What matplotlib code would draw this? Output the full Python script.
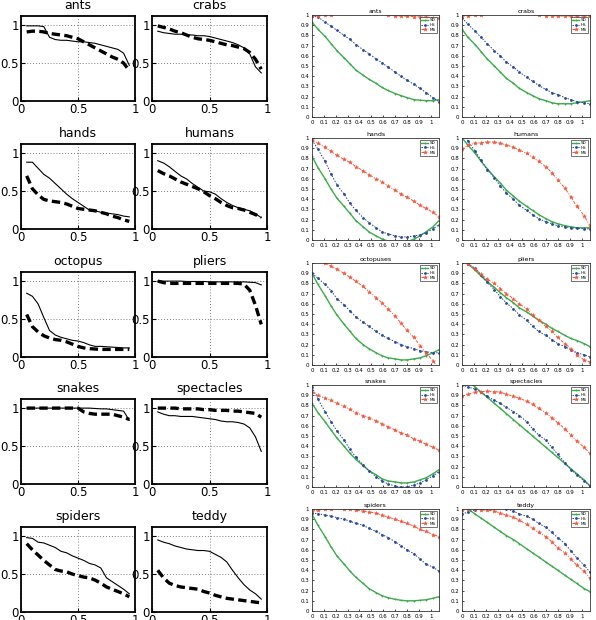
import matplotlib
matplotlib.use("Agg")
import matplotlib.pyplot as plt

# ---------------- left panel data ----------------
names_left = ["ants", "crabs", "hands", "humans", "octopus", "pliers",
              "snakes", "spectacles", "spiders", "teddy"]
recall_left = [0.05, 0.10, 0.15, 0.20, 0.25, 0.30, 0.35, 0.40, 0.45, 0.50,
               0.55, 0.60, 0.65, 0.70, 0.75, 0.80, 0.85, 0.90, 0.95]

solid_ants = [0.99, 0.99, 0.99, 0.98, 0.84, 0.81, 0.80, 0.80, 0.79, 0.78, 0.78, 0.77, 0.76, 0.74, 0.72, 0.70, 0.68, 0.63, 0.47]
dash_ants = [0.91, 0.92, 0.92, 0.91, 0.89, 0.88, 0.87, 0.86, 0.84, 0.82, 0.78, 0.74, 0.70, 0.66, 0.62, 0.58, 0.55, 0.50, 0.40]
solid_crabs = [0.92, 0.90, 0.89, 0.88, 0.88, 0.87, 0.87, 0.86, 0.86, 0.85, 0.83, 0.81, 0.79, 0.77, 0.74, 0.70, 0.62, 0.45, 0.37]
dash_crabs = [0.99, 0.97, 0.95, 0.92, 0.90, 0.87, 0.84, 0.82, 0.81, 0.80, 0.78, 0.76, 0.74, 0.73, 0.71, 0.69, 0.64, 0.55, 0.42]
solid_hands = [0.88, 0.88, 0.80, 0.72, 0.67, 0.60, 0.53, 0.46, 0.40, 0.35, 0.30, 0.25, 0.24, 0.22, 0.21, 0.20, 0.19, 0.17, 0.16]
dash_hands = [0.70, 0.53, 0.45, 0.39, 0.37, 0.36, 0.35, 0.33, 0.30, 0.27, 0.26, 0.25, 0.24, 0.22, 0.20, 0.17, 0.15, 0.12, 0.10]
solid_humans = [0.90, 0.87, 0.82, 0.76, 0.70, 0.66, 0.60, 0.55, 0.50, 0.49, 0.46, 0.40, 0.35, 0.31, 0.28, 0.26, 0.24, 0.20, 0.15]
dash_humans = [0.77, 0.73, 0.70, 0.66, 0.62, 0.59, 0.56, 0.53, 0.49, 0.44, 0.40, 0.35, 0.31, 0.28, 0.27, 0.25, 0.22, 0.19, 0.15]
solid_octopus = [0.84, 0.80, 0.70, 0.52, 0.35, 0.29, 0.26, 0.24, 0.22, 0.21, 0.19, 0.16, 0.14, 0.14, 0.135, 0.13, 0.125, 0.12, 0.12]
dash_octopus = [0.56, 0.40, 0.33, 0.28, 0.25, 0.23, 0.22, 0.20, 0.17, 0.14, 0.12, 0.11, 0.105, 0.10, 0.10, 0.10, 0.10, 0.10, 0.10]
solid_pliers = [1.00, 1.00, 1.00, 1.00, 1.00, 0.995, 0.995, 0.995, 0.995, 0.99, 0.99, 0.99, 0.99, 0.99, 0.99, 0.99, 0.985, 0.98, 0.95]
dash_pliers = [1.00, 0.98, 0.97, 0.97, 0.97, 0.97, 0.97, 0.97, 0.97, 0.97, 0.97, 0.97, 0.97, 0.97, 0.97, 0.96, 0.88, 0.68, 0.43]
solid_snakes = [1.00, 1.00, 1.00, 1.00, 1.00, 1.00, 1.00, 1.00, 1.00, 1.00, 1.00, 1.00, 0.995, 0.99, 0.99, 0.98, 0.97, 0.96, 0.84]
dash_snakes = [1.00, 1.00, 1.00, 1.00, 1.00, 1.00, 1.00, 1.00, 1.00, 1.00, 0.95, 0.93, 0.92, 0.92, 0.92, 0.92, 0.90, 0.88, 0.85]
solid_spect = [0.95, 0.92, 0.90, 0.90, 0.89, 0.89, 0.89, 0.88, 0.87, 0.86, 0.85, 0.83, 0.82, 0.82, 0.81, 0.79, 0.74, 0.62, 0.43]
dash_spect = [1.00, 1.00, 1.00, 1.00, 0.99, 0.99, 0.99, 0.99, 0.98, 0.98, 0.97, 0.97, 0.97, 0.96, 0.96, 0.95, 0.94, 0.93, 0.88]
solid_spiders = [0.98, 0.97, 0.92, 0.91, 0.88, 0.85, 0.80, 0.78, 0.74, 0.71, 0.68, 0.64, 0.62, 0.58, 0.45, 0.40, 0.35, 0.30, 0.24]
dash_spiders = [0.90, 0.82, 0.75, 0.68, 0.62, 0.56, 0.54, 0.53, 0.50, 0.48, 0.46, 0.45, 0.42, 0.38, 0.33, 0.30, 0.27, 0.24, 0.20]
solid_teddy = [0.95, 0.92, 0.90, 0.87, 0.85, 0.83, 0.82, 0.81, 0.81, 0.80, 0.76, 0.72, 0.66, 0.55, 0.45, 0.36, 0.29, 0.24, 0.17]
dash_teddy = [0.55, 0.45, 0.38, 0.35, 0.33, 0.32, 0.31, 0.30, 0.27, 0.25, 0.22, 0.20, 0.18, 0.17, 0.16, 0.15, 0.14, 0.13, 0.12]

solid_left = [solid_ants, solid_crabs, solid_hands, solid_humans, solid_octopus,
              solid_pliers, solid_snakes, solid_spect, solid_spiders, solid_teddy]
dash_left = [dash_ants, dash_crabs, dash_hands, dash_humans, dash_octopus,
             dash_pliers, dash_snakes, dash_spect, dash_spiders, dash_teddy]

# ---------------- right panel data ----------------
names_right = ["ants", "crabs", "hands", "humans", "octopuses", "pliers",
               "snakes", "spectacles", "spiders", "teddy"]
x_right = [0.0, 0.05, 0.11, 0.16, 0.21, 0.27, 0.32, 0.37, 0.43, 0.48, 0.54,
           0.59, 0.64, 0.70, 0.75, 0.80, 0.86, 0.91, 0.96, 1.02, 1.07]
series_names = ["SD", "HS", "MS"]

sd_ants = [0.93, 0.86, 0.79, 0.72, 0.65, 0.58, 0.52, 0.46, 0.41, 0.37, 0.33, 0.29, 0.26, 0.23, 0.21, 0.19, 0.17, 0.165, 0.16, 0.16, 0.17]
hs_ants = [0.99, 0.98, 0.93, 0.89, 0.85, 0.80, 0.76, 0.71, 0.66, 0.62, 0.57, 0.53, 0.49, 0.44, 0.40, 0.36, 0.32, 0.28, 0.24, 0.19, 0.15]
ms_ants = [0.99, 0.995, 1.0, 1.0, 1.05, 1.06, 1.06, 1.06, 1.06, 1.06, 1.05, 1.04, 1.0, 0.995, 0.99, 0.99, 0.985, 0.98, 0.98, 0.975, 0.97]
sd_crabs = [0.86, 0.78, 0.71, 0.64, 0.57, 0.50, 0.44, 0.38, 0.33, 0.28, 0.24, 0.21, 0.18, 0.16, 0.14, 0.13, 0.13, 0.13, 0.14, 0.15, 0.16]
hs_crabs = [0.97, 0.91, 0.84, 0.78, 0.72, 0.65, 0.60, 0.54, 0.49, 0.44, 0.39, 0.35, 0.31, 0.27, 0.24, 0.22, 0.19, 0.17, 0.15, 0.14, 0.13]
ms_crabs = [0.99, 0.995, 1.0, 1.0, 1.05, 1.06, 1.06, 1.06, 1.06, 1.06, 1.05, 1.04, 1.0, 0.995, 0.995, 0.99, 0.99, 0.99, 0.99, 0.99, 0.99]
sd_hands = [0.82, 0.71, 0.60, 0.50, 0.41, 0.33, 0.26, 0.19, 0.13, 0.08, 0.04, 0.01, -0.01, -0.03, -0.03, -0.02, 0.01, 0.04, 0.08, 0.13, 0.19]
hs_hands = [0.98, 0.89, 0.77, 0.65, 0.54, 0.45, 0.36, 0.29, 0.22, 0.17, 0.12, 0.08, 0.06, 0.04, 0.03, 0.03, 0.04, 0.05, 0.07, 0.11, 0.15]
ms_hands = [0.98, 0.95, 0.91, 0.87, 0.83, 0.79, 0.76, 0.72, 0.68, 0.64, 0.60, 0.57, 0.53, 0.49, 0.45, 0.42, 0.38, 0.34, 0.31, 0.27, 0.23]
sd_humans = [1.0, 0.93, 0.85, 0.77, 0.70, 0.62, 0.56, 0.49, 0.43, 0.38, 0.33, 0.29, 0.25, 0.21, 0.18, 0.16, 0.14, 0.13, 0.12, 0.12, 0.12]
hs_humans = [1.05, 0.97, 0.87, 0.78, 0.69, 0.61, 0.53, 0.46, 0.40, 0.34, 0.29, 0.25, 0.21, 0.18, 0.16, 0.14, 0.13, 0.12, 0.115, 0.11, 0.11]
ms_humans = [0.89, 0.93, 0.95, 0.955, 0.96, 0.96, 0.95, 0.93, 0.91, 0.88, 0.85, 0.81, 0.77, 0.72, 0.66, 0.59, 0.51, 0.42, 0.33, 0.24, 0.14]
sd_octopus = [0.90, 0.79, 0.68, 0.58, 0.49, 0.40, 0.33, 0.26, 0.20, 0.16, 0.12, 0.09, 0.07, 0.06, 0.05, 0.05, 0.06, 0.07, 0.09, 0.12, 0.15]
hs_octopus = [0.90, 0.85, 0.79, 0.73, 0.65, 0.59, 0.53, 0.47, 0.42, 0.38, 0.33, 0.29, 0.26, 0.23, 0.20, 0.18, 0.16, 0.14, 0.13, 0.12, 0.12]
ms_octopus = [1.08, 1.05, 1.0, 0.97, 0.94, 0.90, 0.86, 0.82, 0.77, 0.72, 0.66, 0.61, 0.55, 0.48, 0.41, 0.34, 0.27, 0.19, 0.12, 0.04, -0.04]
sd_pliers = [1.05, 0.99, 0.93, 0.87, 0.82, 0.76, 0.71, 0.66, 0.61, 0.56, 0.52, 0.48, 0.44, 0.40, 0.36, 0.33, 0.29, 0.26, 0.24, 0.21, 0.18]
hs_pliers = [1.06, 0.99, 0.95, 0.88, 0.81, 0.74, 0.67, 0.61, 0.55, 0.49, 0.44, 0.38, 0.33, 0.29, 0.25, 0.21, 0.18, 0.15, 0.12, 0.10, 0.08]
ms_pliers = [1.05, 0.99, 0.94, 0.89, 0.84, 0.80, 0.75, 0.70, 0.65, 0.60, 0.55, 0.49, 0.44, 0.38, 0.33, 0.27, 0.21, 0.16, 0.10, 0.05, 0.03]
sd_snakes = [0.82, 0.73, 0.64, 0.56, 0.48, 0.40, 0.33, 0.27, 0.21, 0.16, 0.12, 0.08, 0.06, 0.05, 0.04, 0.04, 0.05, 0.07, 0.09, 0.13, 0.17]
hs_snakes = [0.98, 0.86, 0.74, 0.64, 0.55, 0.46, 0.37, 0.29, 0.22, 0.16, 0.10, 0.06, 0.03, 0.01, 0.0, 0.0, 0.02, 0.04, 0.07, 0.11, 0.15]
ms_snakes = [0.93, 0.90, 0.87, 0.85, 0.82, 0.79, 0.76, 0.73, 0.70, 0.68, 0.65, 0.62, 0.59, 0.56, 0.53, 0.51, 0.47, 0.45, 0.42, 0.39, 0.36]
sd_spect = [1.09, 1.04, 0.98, 0.93, 0.88, 0.82, 0.77, 0.72, 0.66, 0.61, 0.55, 0.50, 0.45, 0.39, 0.34, 0.29, 0.23, 0.18, 0.13, 0.07, 0.01]
hs_spect = [1.0, 0.98, 0.96, 0.93, 0.89, 0.85, 0.82, 0.78, 0.74, 0.70, 0.64, 0.57, 0.51, 0.46, 0.39, 0.32, 0.24, 0.17, 0.12, 0.06, 0.01]
ms_spect = [0.89, 0.91, 0.93, 0.935, 0.94, 0.935, 0.93, 0.91, 0.89, 0.87, 0.84, 0.81, 0.77, 0.73, 0.68, 0.63, 0.57, 0.51, 0.45, 0.39, 0.33]
sd_spiders = [0.95, 0.84, 0.73, 0.63, 0.54, 0.46, 0.39, 0.33, 0.27, 0.22, 0.18, 0.15, 0.13, 0.115, 0.105, 0.10, 0.10, 0.105, 0.11, 0.125, 0.14]
hs_spiders = [0.96, 0.955, 0.94, 0.93, 0.915, 0.90, 0.88, 0.86, 0.84, 0.81, 0.78, 0.75, 0.72, 0.68, 0.64, 0.60, 0.56, 0.51, 0.46, 0.43, 0.39]
ms_spiders = [0.98, 0.99, 1.0, 1.0, 1.04, 1.0, 1.0, 0.99, 0.98, 0.97, 0.96, 0.94, 0.92, 0.90, 0.88, 0.86, 0.83, 0.80, 0.78, 0.75, 0.73]
sd_teddy = [1.04, 1.0, 0.95, 0.91, 0.87, 0.82, 0.78, 0.74, 0.70, 0.66, 0.61, 0.57, 0.53, 0.48, 0.44, 0.40, 0.35, 0.31, 0.27, 0.22, 0.19]
hs_teddy = [0.95, 0.97, 0.99, 1.04, 1.05, 1.05, 1.05, 1.0, 0.98, 0.95, 0.93, 0.90, 0.86, 0.82, 0.77, 0.72, 0.66, 0.59, 0.52, 0.45, 0.38]
ms_teddy = [0.99, 1.0, 1.0, 0.99, 0.99, 0.98, 0.96, 0.94, 0.92, 0.89, 0.85, 0.81, 0.77, 0.73, 0.68, 0.62, 0.57, 0.51, 0.45, 0.39, 0.32]

sd_right = [sd_ants, sd_crabs, sd_hands, sd_humans, sd_octopus, sd_pliers, sd_snakes, sd_spect, sd_spiders, sd_teddy]
hs_right = [hs_ants, hs_crabs, hs_hands, hs_humans, hs_octopus, hs_pliers, hs_snakes, hs_spect, hs_spiders, hs_teddy]
ms_right = [ms_ants, ms_crabs, ms_hands, ms_humans, ms_octopus, ms_pliers, ms_snakes, ms_spect, ms_spiders, ms_teddy]

left_xticks = [0, 0.5, 1]
left_xticklabels = ["0", "0.5", "1"]
right_xticks = [0, 0.1, 0.2, 0.3, 0.4, 0.5, 0.6, 0.7, 0.8, 0.9, 1.0]
right_xticklabels = ["0", "0.1", "0.2", "0.3", "0.4", "0.5", "0.6", "0.7", "0.8", "0.9", "1"]

# ---------------- figure ----------------
W, H = 596, 620
fig = plt.figure(figsize=(W / 100, H / 100), dpi=100)

def add_ax(left, top, w, h):
    return fig.add_axes([left / W, 1 - (top + h) / H, w / W, h / H])

left_cols = [(21, 114), (152, 115)]
left_rows = [16, 144, 272, 399, 527]
right_cols = [(312, 127), (462, 128)]
right_rows = [15, 138, 263, 385, 509]

for i in range(10):
    r, c = divmod(i, 2)
    # left panel
    ax = add_ax(left_cols[c][0], left_rows[r], left_cols[c][1], 85)
    ax.plot(recall_left, solid_left[i], color="black", lw=0.8)
    ax.plot(recall_left, dash_left[i], color="black", lw=2.4, dashes=(2.5, 1.3))
    ax.set_xlim(0, 1)
    ax.set_ylim(0, 1.12)
    ax.set_xticks(left_xticks)
    ax.set_xticklabels(left_xticklabels)
    ax.set_yticks([0, 0.5, 1])
    ax.set_yticklabels(["0", "0.5", "1"])
    ax.grid(True, linestyle=(0, (1, 2.5)), color="#555555", lw=0.6)
    ax.tick_params(direction="in", labelsize=8.5, length=3, pad=1.5)
    for s in ax.spines.values():
        s.set_linewidth(1.3)
    ax.set_title(names_left[i], fontsize=9, pad=5)

    # right panel
    ax2 = add_ax(right_cols[c][0], right_rows[r], right_cols[c][1], 102)
    ax2.plot(x_right, sd_right[i], color="#3cab4b", lw=1.0, marker="+", ms=2.0, mew=0.6,
             label=series_names[0])
    ax2.plot(x_right, hs_right[i], color="#27479c", lw=0.7, ls=(0, (1.5, 1.5)), marker="o",
             ms=2.0, mew=0, label=series_names[1])
    ax2.plot(x_right, ms_right[i], color="#f0553a", lw=0.7, ls=(0, (3, 1.5, 1, 1.5)), marker="*",
             ms=3.0, mew=0.3, label=series_names[2])
    ax2.set_xlim(0, 1.07)
    ax2.set_ylim(0, 1)
    ax2.set_xticks(right_xticks)
    ax2.set_xticklabels(right_xticklabels)
    ax2.set_yticks([0, 0.1, 0.2, 0.3, 0.4, 0.5, 0.6, 0.7, 0.8, 0.9, 1.0])
    ax2.set_yticklabels(["0", "0.1", "0.2", "0.3", "0.4", "0.5", "0.6", "0.7", "0.8", "0.9", "1"])
    ax2.tick_params(direction="in", labelsize=4, length=1.5, pad=2, width=0.5)
    for s in ax2.spines.values():
        s.set_linewidth(0.6)
        s.set_color("#333333")
    ax2.set_title(names_right[i], fontsize=4.5, pad=1.5)
    leg = ax2.legend(loc="upper right", fontsize=3, frameon=True, fancybox=False,
                     handlelength=1.6, borderpad=0.3, labelspacing=0.15,
                     handletextpad=0.4, borderaxespad=0.5)
    leg.get_frame().set_edgecolor("#333333")
    leg.get_frame().set_linewidth(0.6)

fig.savefig("out.png", dpi=100)
